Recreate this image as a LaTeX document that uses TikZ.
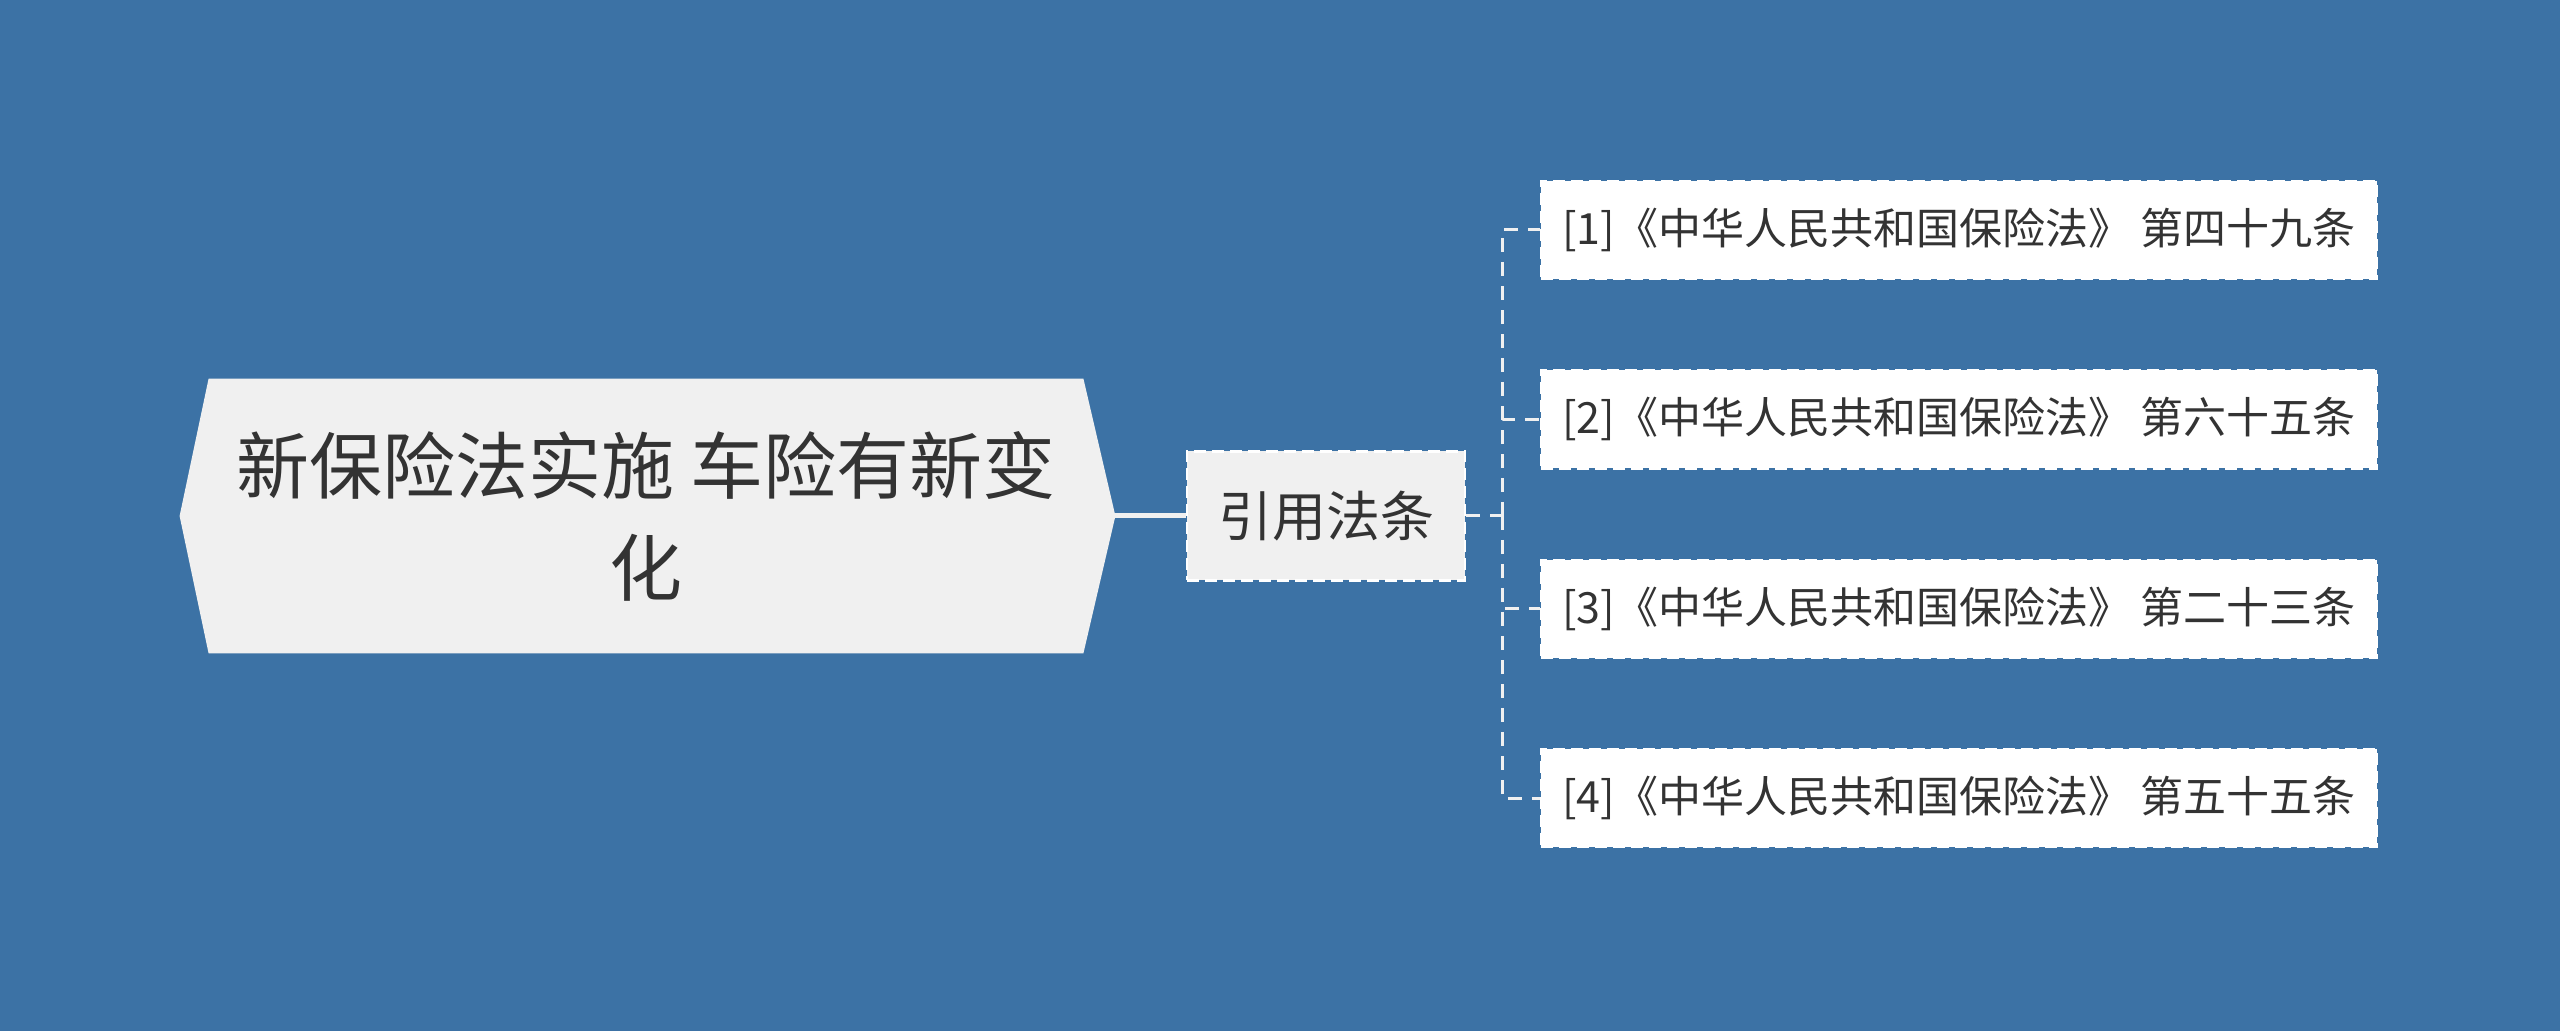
\documentclass[tikz,border=0pt]{standalone}
\usepackage{fontspec}
\setmainfont{Noto Sans CJK SC}
\definecolor{fondo}{HTML}{3C72A5}
\definecolor{gris}{HTML}{F0F0F0}
\definecolor{texto}{HTML}{333333}

\begin{document}
\begin{tikzpicture}[x=0.5pt,y=-0.5pt,
  raiz/.style={minimum width=437pt,minimum height=137pt,inner sep=0pt,
    align=center,text=texto,font=\fontsize{36.5}{51}\selectfont},
  nivel/.style={draw=white,dash pattern=on 6pt off 3pt,line width=1.2pt,fill=gris,
    minimum width=139pt,minimum height=64.5pt,inner sep=0pt,text=texto,
    font=\fontsize{27}{32}\selectfont},
  hoja/.style={draw=white,dash pattern=on 6pt off 3pt,line width=1.2pt,fill=white,
    minimum width=418pt,minimum height=49pt,inner sep=0pt,text=texto,
    font=\fontsize{21.5}{26}\selectfont},
  rama/.style={draw=gris,line width=2.5pt},
  guia/.style={draw=gris,line width=1.5pt,dash pattern=on 7pt off 5pt}]

  \pgfdeclarelayer{background}
  \pgfsetlayers{background,main}

  \useasboundingbox (0,0) rectangle (2560,1031);
  \begin{pgfonlayer}{background}
    \fill[fondo] (0,0) rectangle (2560,1031);
  \end{pgfonlayer}

  \node[raiz] (root) at (646,516) {新保险法实施 车险有新变\\化};
  \node[nivel] (mid) at (1326,516) {引用法条};

  \foreach \i/\art in {1/第四十九条,2/第六十五条,3/第二十三条,4/第五十五条}
    \node[hoja] (hoja\i) at (1959,{230+189.4*(\i-1)}) {[\i]《中华人民共和国保险法》 \art};

  \begin{pgfonlayer}{background}
    \fill[gris] ([xshift=-14.5pt]root.west) -- (root.north west) -- (root.north east)
      -- ([xshift=16pt]root.east) coordinate (punta) -- (root.south east)
      -- (root.south west) -- cycle;
  \end{pgfonlayer}

  \coordinate (bus) at (1502,516);
  \draw[rama] (punta) -- (mid.west);
  \draw[guia] (mid.east) -- (bus);
  \foreach \i in {1,...,4}
    \draw[guia] (bus) |- (hoja\i.west);

\end{tikzpicture}
\end{document}
